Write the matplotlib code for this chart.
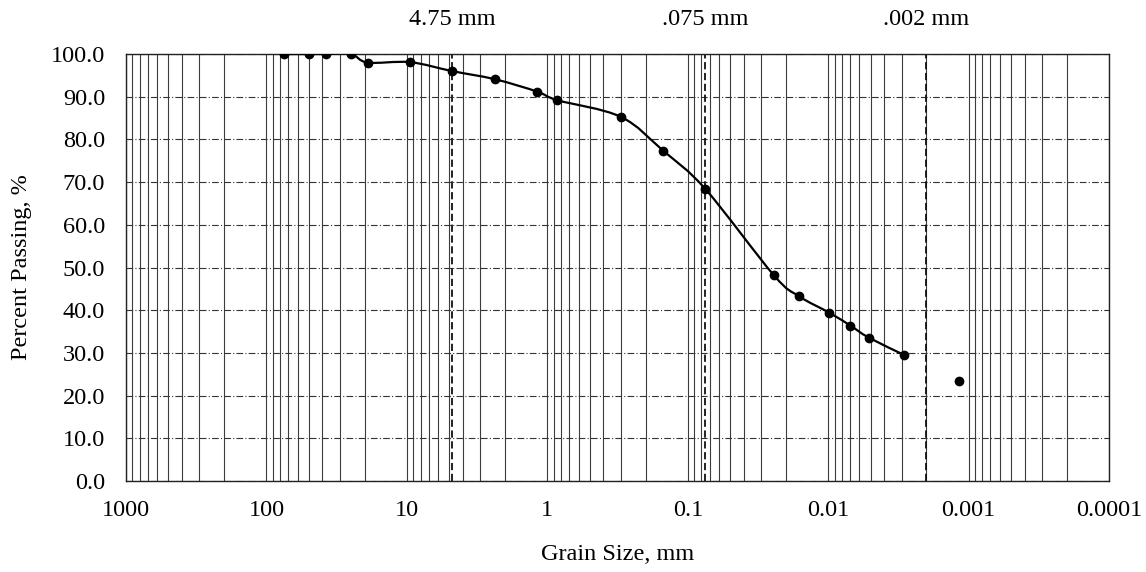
import numpy as np
import matplotlib.pyplot as plt
from matplotlib.path import Path
from matplotlib.patches import PathPatch
from matplotlib.ticker import FixedLocator, LogLocator, NullFormatter

plt.rcParams['font.family'] = ['Liberation Serif', 'DejaVu Serif']

# sieve + hydrometer results
grain_mm = [75, 50, 37.5, 25, 19, 9.5, 4.75, 2.36, 1.18, 0.85, 0.30, 0.149, 0.075,
            0.0244, 0.0162, 0.0098, 0.00695, 0.00515, 0.00287]
passing = [100.0, 100.0, 100.0, 100.0, 98.0, 98.1, 96.0, 94.1, 91.2, 89.2, 85.3, 77.3, 68.4,
           48.2, 43.3, 39.4, 36.4, 33.6, 29.5]
# last hydrometer reading, plotted on its own
extra_mm = [0.00118]
extra_passing = [23.5]

boundaries = [4.75, 0.075, 0.002]
boundary_labels = ['4.75 mm', '.075 mm', '.002 mm']
x_ticks = [1000, 100, 10, 1, 0.1, 0.01, 0.001, 0.0001]
x_ticklabels = ['1000', '100', '10', '1', '0.1', '0.01', '0.001', '0.0001']

FS = 17.5


def smooth_path(xs, ys):
    # Catmull-Rom style bezier through the points, built in log-x space
    lx = np.log10(xs)
    ys = np.asarray(ys, float)
    n = len(lx)
    verts = [(xs[0], ys[0])]
    codes = [Path.MOVETO]
    for i in range(n - 1):
        p0 = (lx[max(i - 1, 0)], ys[max(i - 1, 0)])
        p1 = (lx[i], ys[i])
        p2 = (lx[i + 1], ys[i + 1])
        p3 = (lx[min(i + 2, n - 1)], ys[min(i + 2, n - 1)])
        c1 = (p1[0] + (p2[0] - p0[0]) / 6, p1[1] + (p2[1] - p0[1]) / 6)
        c2 = (p2[0] - (p3[0] - p1[0]) / 6, p2[1] - (p3[1] - p1[1]) / 6)
        for c in (c1, c2, p2):
            verts.append((10 ** c[0], c[1]))
            codes.append(Path.CURVE4)
    return Path(verts, codes)


fig = plt.figure(figsize=(11.46, 5.72), dpi=100)
ax = fig.add_axes([0.110, 0.159, 0.8578, 0.7465])

ax.set_xscale('log')
ax.set_xlim(1000, 0.0001)
ax.set_ylim(0, 100)

ax.xaxis.set_major_locator(FixedLocator(x_ticks))
ax.set_xticklabels(x_ticklabels)
ax.xaxis.set_minor_locator(LogLocator(base=10, subs=np.arange(2, 10), numticks=50))
ax.xaxis.set_minor_formatter(NullFormatter())
ax.set_yticks(np.arange(0, 101, 10))
ax.set_yticklabels([f'{v:.1f}' for v in np.arange(0, 101, 10)])
ax.tick_params(axis='both', which='both', length=0, labelsize=FS)
ax.tick_params(axis='x', pad=14)
ax.tick_params(axis='y', pad=15)

ax.grid(True, axis='x', which='both', color='#3c3c3c', linewidth=0.8)
ax.grid(True, axis='y', which='major', color='#333333', linewidth=0.8,
        linestyle=(0, (6, 2, 1, 2)))
ax.set_axisbelow(True)
for s in ax.spines.values():
    s.set_color('#222222')
    s.set_linewidth(1.0)

for b, lab in zip(boundaries, boundary_labels):
    ax.axvline(b, color='#111111', linewidth=1.3, linestyle=(0, (4, 2)), zorder=2)
    ax.text(b, 1.08, lab, transform=ax.get_xaxis_transform(), ha='center', va='center',
            fontsize=FS)

ax.add_patch(PathPatch(smooth_path(grain_mm, passing), facecolor='none',
                       edgecolor='black', linewidth=1.6, zorder=3))
ax.plot(grain_mm, passing, linestyle='none', marker='o', color='black',
        markersize=6, zorder=4)
ax.plot(extra_mm, extra_passing, linestyle='none', marker='o', color='black',
        markersize=6, zorder=4)

ax.set_xlabel('Grain Size, mm', fontsize=FS, labelpad=16)
ax.set_ylabel('Percent Passing, %', fontsize=FS, labelpad=14)

fig.savefig('out.png', dpi=100)
